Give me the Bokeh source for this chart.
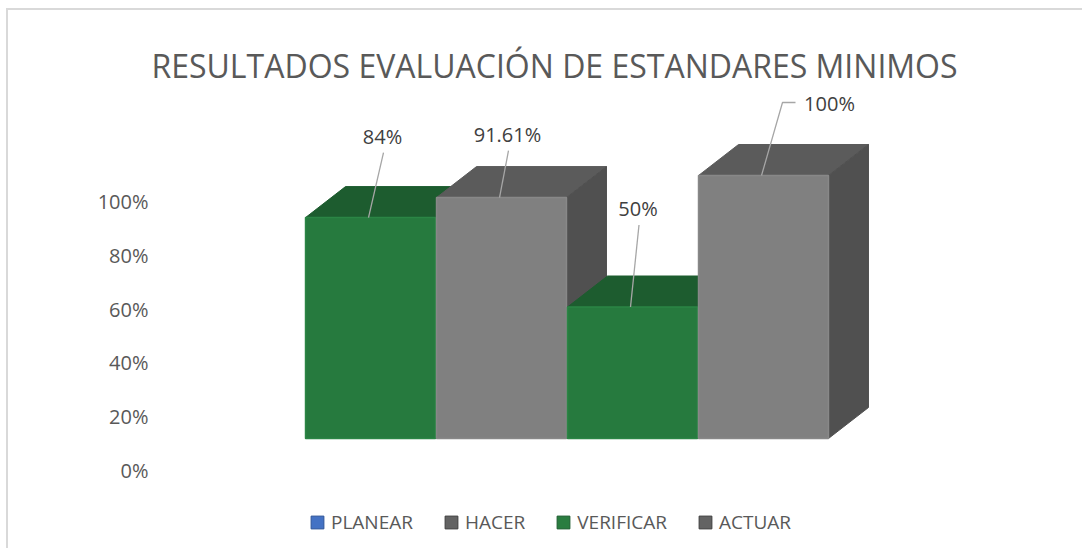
from bokeh.plotting import figure
from bokeh.models import Range1d, LinearAxis, FixedTicker, Legend, LegendItem, ColumnDataSource
from bokeh.core.properties import value
from bokeh.embed import file_html
from bokeh.resources import INLINE

# ---------------- data ----------------
title_text = "RESULTADOS EVALUACIÓN DE ESTANDARES MINIMOS"
bar_values = [0.84, 0.9161, 0.50, 1.00]
bar_labels = ["84%", "91.61%", "50%", "100%"]
bar_series = ["VERIFICAR", "HACER", "VERIFICAR", "ACTUAR"]
legend_names = ["PLANEAR", "HACER", "VERIFICAR", "ACTUAR"]
tick_values = [0, 0.2, 0.4, 0.6, 0.8, 1.0]
tick_labels = ["0%", "20%", "40%", "60%", "80%", "100%"]

# ---------------- styling ----------------
FONT = "Open Sans"
PXX = 131.0   # px per x unit
PXY = 263.0   # px per y unit (bar scale)
HW = 0.496
DX = 40.0 / PXX
DY = 31.0 / PXY

face_colors = {
    "VERIFICAR": ("#267a3e", "#1d5c2f", "#1c552c", "#2b8545"),
    "HACER": ("#808080", "#5b5b5b", "#505050", "#888888"),
    "ACTUAR": ("#808080", "#5b5b5b", "#505050", "#888888"),
}
legend_colors = {
    "PLANEAR": ("#4472c4", "#2f5597"),
    "HACER": ("#636363", "#3f3f3f"),
    "VERIFICAR": ("#2a7d40", "#1d5c2f"),
    "ACTUAR": ("#636363", "#3f3f3f"),
}
# label offsets from bar front-top centre (px, right / up)
label_off = [(12, 81), (6, 63), (5.5, 99), (66, 72)]
leader_start = [(1, -16), (1, -16), (1, -17), (-34, 1)]
leader_elbow = [None, None, None, (-47, 1)]

p = figure(width=1076, height=540,
           x_range=Range1d(-1.6031, 4.4122), y_range=Range1d(-0.3878, 1.3232),
           output_backend="svg", toolbar_location=None,
           x_axis_location=None, y_axis_location=None,
           min_border_left=152, min_border_right=136,
           min_border_top=80, min_border_bottom=10,
           outline_line_color=None, background_fill_color="white",
           border_fill_color="white")
p.grid.grid_line_color = None
p.styles = {"border-top": "2px solid #d9d9d9", "border-left": "2px solid #d9d9d9",
            "margin-left": "6px", "margin-top": "8px"}

p.title.text = title_text
p.title.align = "center"
p.title.text_font = FONT
p.title.text_font_size = "32px"
p.title.text_font_style = "normal"
p.title.text_color = "#595959"
p.title.standoff = 8

p.extra_y_ranges = {"axis": Range1d(-0.2602, 1.4126)}
ax = LinearAxis(y_range_name="axis", ticker=FixedTicker(ticks=tick_values),
                major_label_overrides={v: l for v, l in zip(tick_values, tick_labels)})
ax.axis_line_color = None
ax.major_tick_line_color = None
ax.minor_tick_line_color = None
ax.major_tick_out = 0
ax.major_tick_in = 0
ax.major_label_standoff = 12
ax.major_label_text_font = FONT
ax.major_label_text_font_size = "20px"
ax.major_label_text_color = "#595959"
p.add_layout(ax, "left")

# bars (drawn back-to-front per bar)
for i, (v, s) in enumerate(zip(bar_values, bar_series)):
    front, top, side, rim = face_colors[s]
    l, r = i - HW, i + HW
    p.patch([l, l + DX, r + DX, r], [v, v + DY, v + DY, v],
            fill_color=top, line_color=top, line_width=1)
    p.patch([r, r + DX, r + DX, r], [0, DY, v + DY, v],
            fill_color=side, line_color=side, line_width=1)
    src = ColumnDataSource(dict(left=[l], right=[r], bottom=[0], top=[v]))
    p.quad(left="left", right="right", bottom="bottom", top="top", source=src,
           fill_color=front, line_color=rim, line_width=1.5)

# data labels with leader lines
lx, ly, lxs, lys = [], [], [], []
for i, v in enumerate(bar_values):
    ox, oy = label_off[i]
    cx = i + ox / PXX
    cy = v + oy / PXY
    lx.append(cx)
    ly.append(cy)
    sx, sy = leader_start[i]
    xs = [cx + sx / PXX]
    ys = [cy + sy / PXY]
    if leader_elbow[i] is not None:
        ex, ey = leader_elbow[i]
        xs.append(cx + ex / PXX)
        ys.append(cy + ey / PXY)
    xs.append(i - 2 / PXX)
    ys.append(v)
    lxs.append(xs)
    lys.append(ys)

p.multi_line(xs=lxs, ys=lys, line_color="#a6a6a6", line_width=1.3)
p.text(x=lx, y=ly, text=bar_labels, text_align="center", text_baseline="middle",
       text_font=value(FONT), text_font_size="20px", text_color="#404040")

# legend (proxy renderers without visible marks)
nan = float("nan")
items = []
for name in legend_names:
    fc, lc = legend_colors[name]
    src = ColumnDataSource(dict(left=[nan], right=[nan], bottom=[nan], top=[nan]))
    r = p.quad(left="left", right="right", bottom="bottom", top="top", source=src,
               fill_color=fc, line_color=lc, line_width=1)
    items.append(LegendItem(label=name, renderers=[r]))
legend = Legend(items=items, orientation="horizontal", location=(149, 5),
                glyph_width=16, glyph_height=16, label_standoff=6, spacing=30,
                padding=0, margin=0, border_line_color=None, background_fill_alpha=0,
                label_text_font=FONT, label_text_font_size="19px",
                label_text_color="#595959", label_height=14)
p.add_layout(legend)

open("out.html", "w").write(file_html(p, INLINE))
